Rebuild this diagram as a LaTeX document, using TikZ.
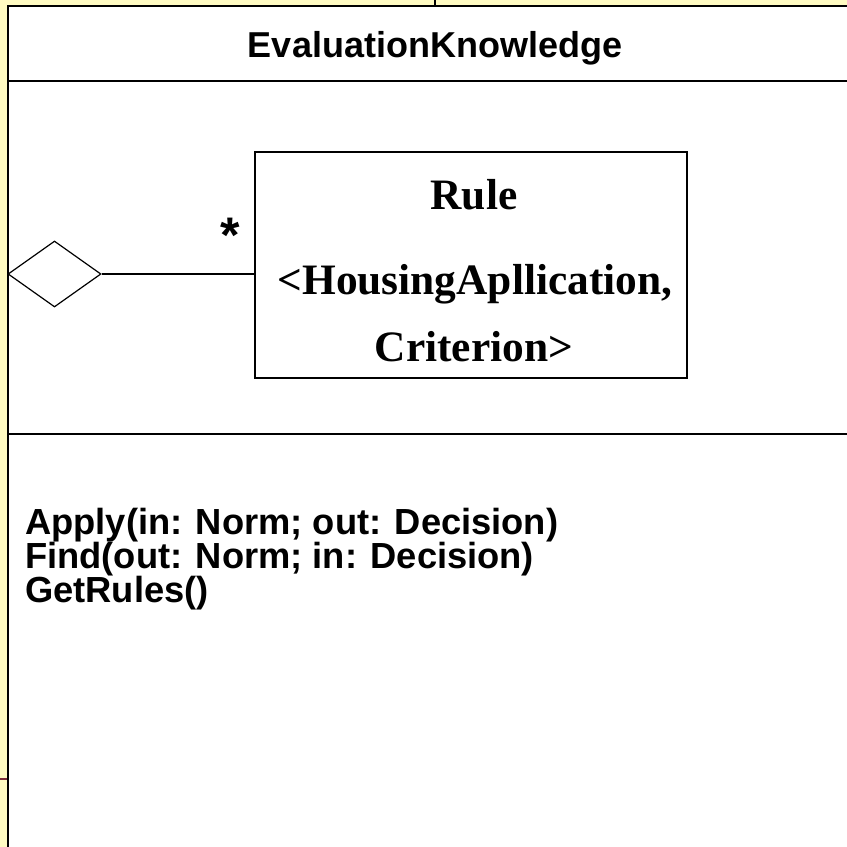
\documentclass[tikz,border=0pt]{standalone}
\usepackage{fontspec}
\setmainfont{Liberation Serif}
\newfontfamily\arialfont{Liberation Sans}
\usetikzlibrary{shapes.geometric}
\definecolor{slidebg}{HTML}{FFFBC2}
\definecolor{edgemaroon}{HTML}{7A2E3A}
\tikzset{
  frame/.style={draw=black, line width=2pt},
  divider/.style={draw=black, line width=1.6pt},
  classbox/.style={draw=black, line width=1.6pt, fill=white, inner sep=0pt},
  aggdiamond/.style={diamond, draw=black, line width=1.2pt, fill=white, inner sep=0pt, minimum width=93pt, minimum height=66pt},
  assoc/.style={draw=black, line width=1.2pt},
  titletext/.style={font=\arialfont\bfseries\fontsize{36}{40}\selectfont, inner sep=0pt, anchor=base},
  ruletext/.style={font=\bfseries\fontsize{43.4}{46}\selectfont, inner sep=0pt, anchor=base},
  methodtext/.style={font=\arialfont\bfseries\fontsize{36.3}{34}\selectfont, inner sep=0pt, align=left, anchor=base west},
  multtext/.style={font=\arialfont\bfseries\fontsize{50}{54}\selectfont, inner sep=0pt, anchor=base}
}
\begin{document}
\begin{tikzpicture}[x=1pt,y=-1pt]
\useasboundingbox (0,0) rectangle (847,847);
\clip (0,0) rectangle (847,847);
\fill[slidebg] (0,0) rectangle (847,847);
% fragments of neighbouring shapes
\draw[line width=2pt] (435,-4) -- (435,6);
\draw[edgemaroon, line width=2pt] (0,779) -- (8,779);
% class frame
\fill[white] (8,6) rectangle (900,900);
\draw[frame] (900,6) -- (8,6) -- (8,900);
\draw[divider] (8,81) -- (900,81);
\draw[divider] (8,434) -- (900,434);
% title
\node[titletext] (title) at (435,57) {EvaluationKnowledge};
% part class
\node[classbox, minimum width=432pt, minimum height=226pt] (rule) at (471,265) {};
\node[ruletext] (rname) at (474,209) {Rule};
\node[ruletext] (rparam1) at (475,294) {<HousingApllication,};
\node[ruletext] (rparam2) at (474,361) {Criterion>};
% aggregation
\node[aggdiamond] (agg) at (54.5,274) {};
\draw[assoc] (agg.east) -- (agg.east -| rule.west);
\node[multtext] (mult) at (230,252) {*};
% operations
\node[methodtext] (op1) at (25,534) {Apply(in: Norm; out: Decision)};
\node[methodtext] (op2) at (25,568) {Find(out: Norm; in: Decision)};
\node[methodtext] (op3) at (25,602) {GetRules()};
\end{tikzpicture}
\end{document}
